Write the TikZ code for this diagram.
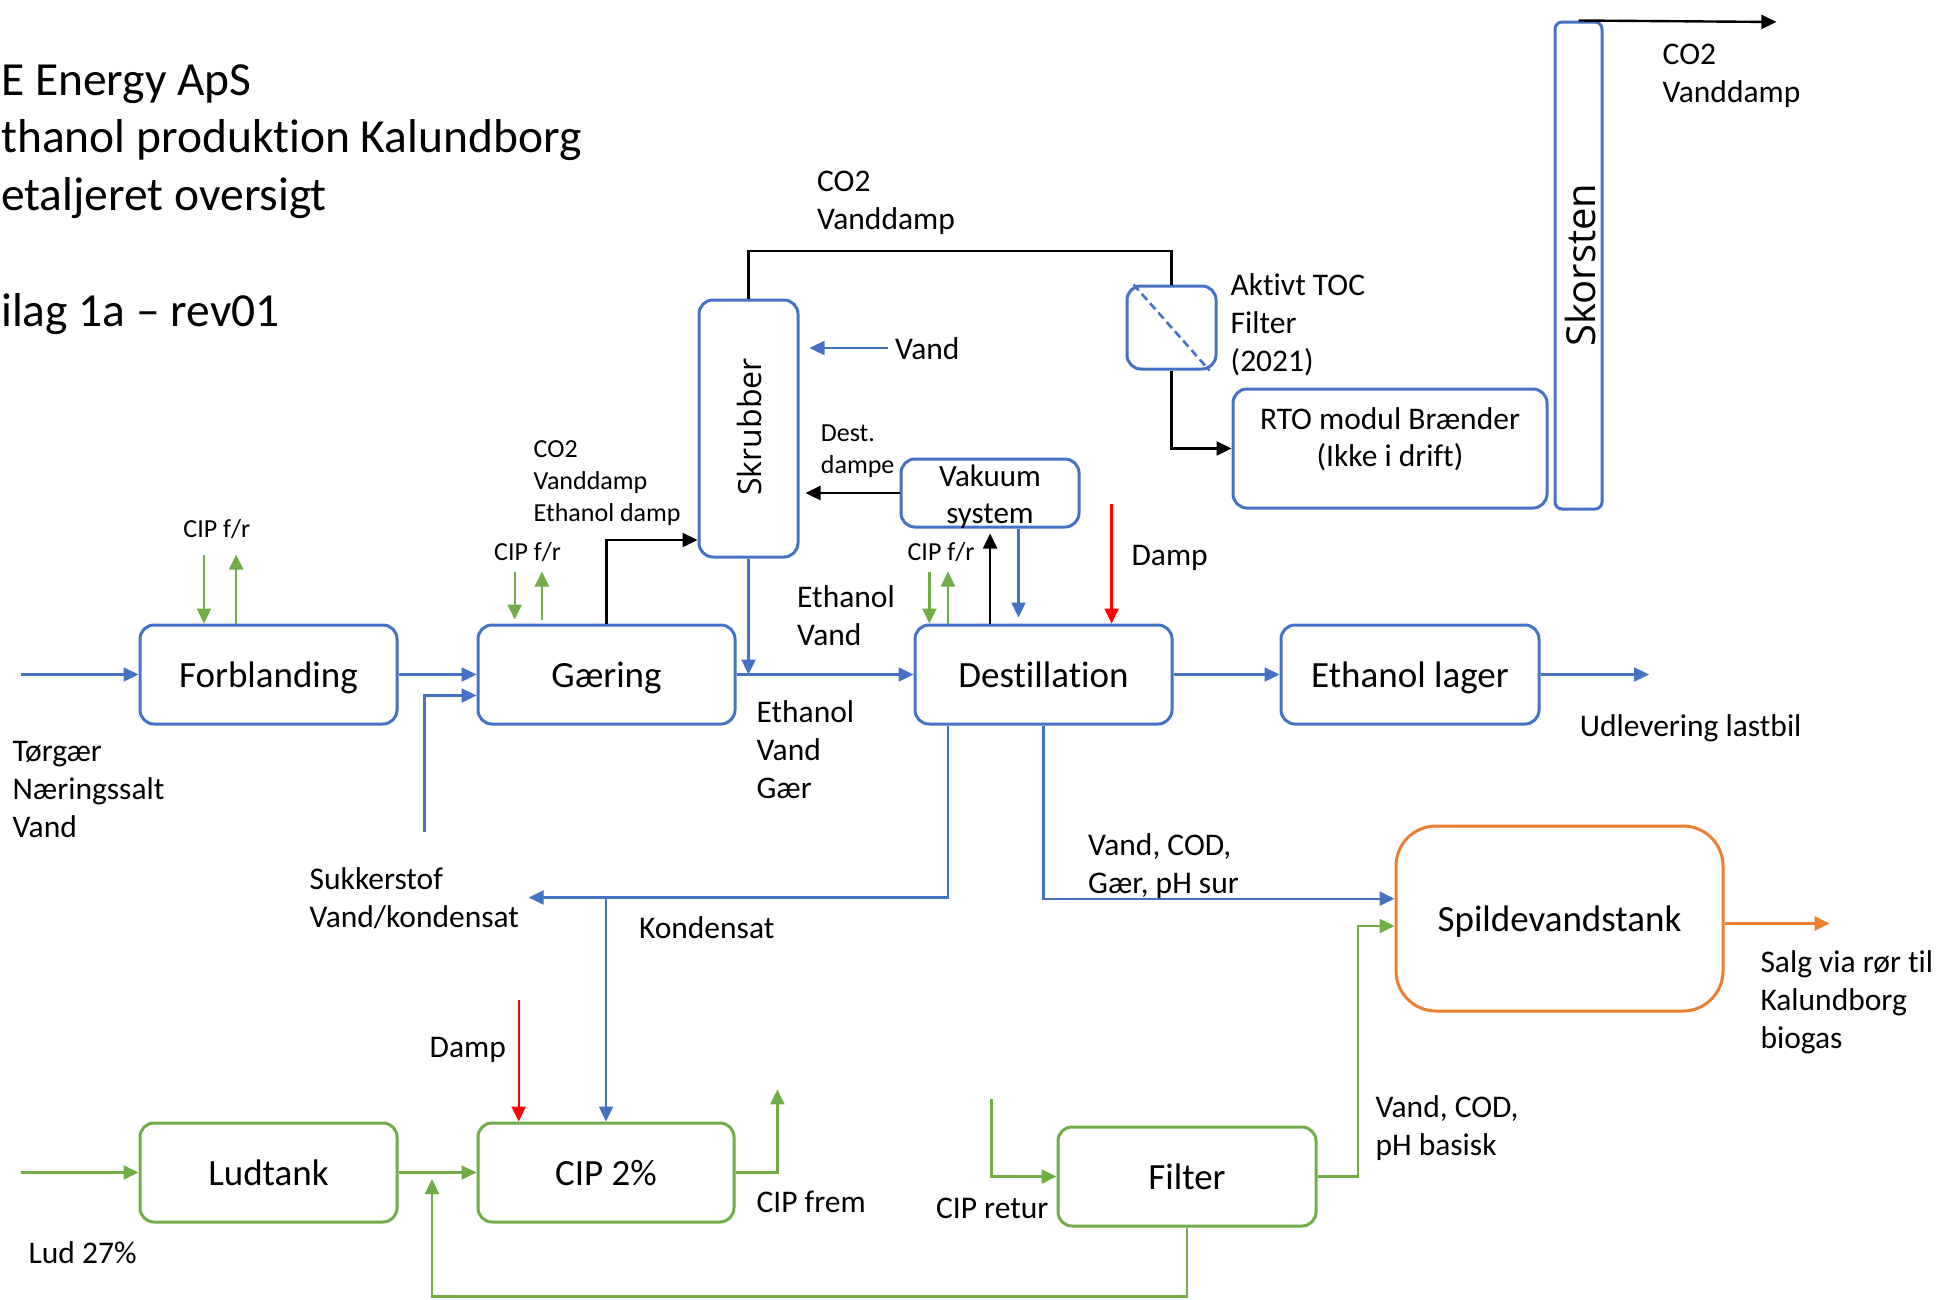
\documentclass[tikz,border=0pt]{standalone}
\usepackage{fontspec}
\setmainfont[Ligatures=NoCommon]{Carlito}
\newfontfamily\segoe{Open Sans}
\usetikzlibrary{arrows.meta,calc}
\definecolor{cblue}{HTML}{4472C4}
\definecolor{cgreen}{HTML}{70AD47}
\definecolor{corange}{HTML}{ED7D31}
\definecolor{cred}{HTML}{FF0000}
\begin{document}
\begin{tikzpicture}[x=1pt,y=-1pt,
  bx/.style={draw=cblue, line width=3pt, rounded corners=14pt, inner sep=0pt, text depth=0pt, font=\fontsize{37}{44}\selectfont},
  gbx/.style={draw=cgreen, line width=3pt, rounded corners=14pt, inner sep=0pt, text depth=0pt, font=\fontsize{37}{44}\selectfont},
  lab/.style={font=\fontsize{31.5}{38}\selectfont, align=left, inner sep=0pt, anchor=west},
  sml/.style={font=\fontsize{26}{32}\selectfont, align=left, inner sep=0pt, anchor=west},
  tip/.style={-{Triangle[length=15pt,width=14pt]}},
  bl/.style={draw=cblue, line width=2.4pt},
  gl/.style={draw=cgreen, line width=2.4pt},
  bk/.style={draw=black, line width=2.4pt},
  rl/.style={draw=cred, line width=2.4pt},
  ol/.style={draw=corange, line width=2.4pt}
]
\useasboundingbox (0,0) rectangle (1941,1299);

% title
\node[font=\fontsize{47.5}{57.5}\selectfont, align=left, inner sep=0pt, anchor=west] (title) at (1,141.5) {E Energy ApS\\thanol produktion Kalundborg\\etaljeret oversigt};
\node[font=\fontsize{47.5}{57.5}\selectfont, inner sep=0pt, anchor=west] (bilag) at (1,314) {ilag 1a – rev01};

% boxes
\node[bx, minimum width=257, minimum height=99] (forb) at (268.5,674.5) {Forblanding};
\node[bx, minimum width=257, minimum height=99] (gaer) at (606.5,674.5) {Gæring};
\node[bx, minimum width=257, minimum height=99] (dest) at (1043.5,674.5) {Destillation};
\node[bx, minimum width=258, minimum height=99] (elag) at (1410,674.5) {Ethanol lager};
\node[bx, minimum width=99, minimum height=257] (skr) at (748.5,428.5) {};
\node[font=\segoe\fontsize{32}{38}\selectfont, rotate=90, inner sep=0pt] (skrt) at (749,427) {Skrubber};
\node[bx, minimum width=178, minimum height=68] (vak) at (990,493) {};
\node[font=\fontsize{31}{37}\selectfont, align=center, inner sep=0pt] (vakt) at (990,496.5) {Vakuum\\system};
\node[bx, minimum width=89, minimum height=83] (toc) at (1171.5,327.5) {};
\node[bx, minimum width=314, minimum height=119] (rto) at (1390,448.5) {};
\node[font=\fontsize{31.5}{37}\selectfont, align=center, inner sep=0pt] (rtot) at (1390,439.5) {RTO modul Brænder\\(Ikke i drift)};
\node[bx, rounded corners=7pt, minimum width=47, minimum height=487] (sko) at (1578.5,265.5) {};
\node[font=\segoe\fontsize{40}{46}\selectfont, rotate=90, inner sep=0pt] (skot) at (1580,265) {Skorsten};
\node[draw=corange, line width=3pt, rounded corners=40pt, inner sep=0pt, text depth=0pt, minimum width=327, minimum height=185, font=\fontsize{37}{44}\selectfont] (spv) at (1559.5,918.5) {Spildevandstank};
\node[gbx, minimum width=257, minimum height=99] (lud) at (268.5,1172.5) {Ludtank};
\node[gbx, minimum width=256, minimum height=99] (cip) at (606,1172.5) {CIP 2\%};
\node[gbx, minimum width=258, minimum height=99] (filt) at (1187,1176.5) {Filter};

% TOC filter dashed diagonal
\draw[cblue, dash pattern=on 8pt off 4.5pt, line width=2.6pt] ($(toc.north west)+(8,0)$) -- ($(toc.south east)+(-8,0)$);

% free ends
\coordinate (inF) at (21,674.5);
\coordinate (suk) at (424.6,832);
\coordinate (dmp1) at (1111.6,504);
\coordinate (vandA) at (887.6,348);
\coordinate (udl) at (1649,674.5);
\coordinate (kond) at (528.6,897.5);
\coordinate (dmp2) at (518.7,1000);
\coordinate (lud0) at (21,1172.5);
\coordinate (frem) at (777.4,1089.4);
\coordinate (ret) at (991.6,1099.3);
\coordinate (bot) at (432,1296.3);
\coordinate (retend) at (432,1179);
\coordinate (salg) at (1829.6,923.5);
\coordinate (skoend) at (1776.4,22);

% blue flows
\draw[bl,tip] (inF) -- (forb.west);
\draw[bl,tip] (forb.east) -- (gaer.west);
\draw[bl,tip] (suk) |- ($(gaer.west)+(0,21)$);
\draw[bl,tip] (gaer.east) -- (dest.west);
\draw[bl,tip] (skr.south) -- (skr.south |- gaer.east);
\draw[bl,tip] ($(vak.south west)+(119,0)$) -- ($(dest.north west)+(105,-6)$);
\draw[bl,tip] (vandA) -- ($(skr.east |- vandA)+(10,0)$);
\draw[bl,tip] (dest.east) -- (elag.west);
\draw[bl,tip] (elag.east) -- (udl);
\draw[bl,tip] (dest.south) |- ($(spv.west)+(0,-19.8)$);
\draw[bl,tip] ($(dest.south west)+(34.5,0)$) |- (kond);
\draw[bl,tip] (cip.north |- kond) -- (cip.north);

% black flows
\draw[bk,tip] (gaer.north) |- ($(skr.south west)+(0,-18.5)$);
\draw[bk,tip] ($(dest.north west)+(76.6,0)$) -- ($(vak.south west)+(90.6,5)$);
\draw[bk,tip] (vak.west) -- ($(skr.east |- vak.west)+(6,0)$);
\draw[bk] (skr.north) -- ++(0,-47.5) -| (toc.north);
\draw[bk,tip] (toc.south) |- (rto.west);
\draw[bk,tip] (sko.north) -- (skoend);

% red
\draw[rl,tip] (dmp1) -- (dmp1 |- dest.north);
\draw[rl,tip] (dmp2) -- (dmp2 |- cip.north);

% green CIP f/r
\draw[gl,tip] ($(forb.north west)+(65.5,-69)$) -- ($(forb.north west)+(65.5,0)$);
\draw[gl,tip] ($(forb.north west)+(97.7,0)$) -- ($(forb.north west)+(97.7,-69)$);
\draw[gl,tip] ($(gaer.north west)+(38.2,-52)$) -- ($(gaer.north west)+(38.2,-4)$);
\draw[gl,tip] ($(gaer.north west)+(65.4,-4)$) -- ($(gaer.north west)+(65.4,-52)$);
\draw[gl,tip] ($(dest.north west)+(15.9,-52)$) -- ($(dest.north west)+(15.9,0)$);
\draw[gl,tip] ($(dest.north west)+(34.5,0)$) -- ($(dest.north west)+(34.5,-52)$);

% green flows
\draw[gl,tip] (lud0) -- (lud.west);
\draw[gl,tip] (lud.east) -- (cip.west);
\draw[gl,tip] (cip.east) -| (frem);
\draw[gl,tip] (ret) |- (filt.west);
\draw[gl,tip] (filt.south) |- (bot) -- (retend);
\draw[gl,tip] (filt.east) -- ++(40.7,0) |- ($(spv.west)+(0,7.5)$);

% orange
\draw[ol,tip] (spv.east |- salg) -- (salg);

% labels
\node[lab] (l1) at (12.4,789) {Tørgær\\Næringssalt\\Vand};
\node[lab] (l2) at (309.5,898) {Sukkerstof\\Vand/kondensat};
\node[lab] (l3) at (797,616) {Ethanol\\Vand};
\node[lab] (l4) at (756.4,749.5) {Ethanol\\Vand\\Gær};
\node[sml] (l5) at (533.5,483) {CO2\\Vanddamp\\Ethanol damp};
\node[sml] (l6) at (183.2,528.6) {CIP f/r};
\node[sml] (l7) at (494,552) {CIP f/r};
\node[sml] (l8) at (907.4,552) {CIP f/r};
\node[lab] (l9) at (1131.4,557.5) {Damp};
\node[sml] (l10) at (820.7,451.5) {Dest.\\dampe};
\node[lab] (l11) at (895,349) {Vand};
\node[lab] (l12) at (817,203) {CO2\\Vanddamp};
\node[lab] (l13) at (1230.5,324.5) {Aktivt TOC\\Filter\\(2021)};
\node[lab] (l14) at (1662.5,75.5) {CO2\\Vanddamp};
\node[lab] (l15) at (1579.6,728.5) {Udlevering lastbil};
\node[lab] (l16) at (1088,866.5) {Vand, COD,\\Gær, pH sur};
\node[lab] (l17) at (638.8,927.2) {Kondensat};
\node[lab] (l18) at (429.5,1049.5) {Damp};
\node[lab] (l19) at (756.4,1202) {CIP frem};
\node[lab] (l20) at (935.9,1208.2) {CIP retur};
\node[lab] (l21) at (1375.3,1128) {Vand, COD,\\pH basisk};
\node[lab] (l22) at (1760.3,1002) {Salg via rør til\\Kalundborg\\biogas};
\node[lab] (l23) at (28.5,1253) {Lud 27\%};
\end{tikzpicture}
\end{document}
